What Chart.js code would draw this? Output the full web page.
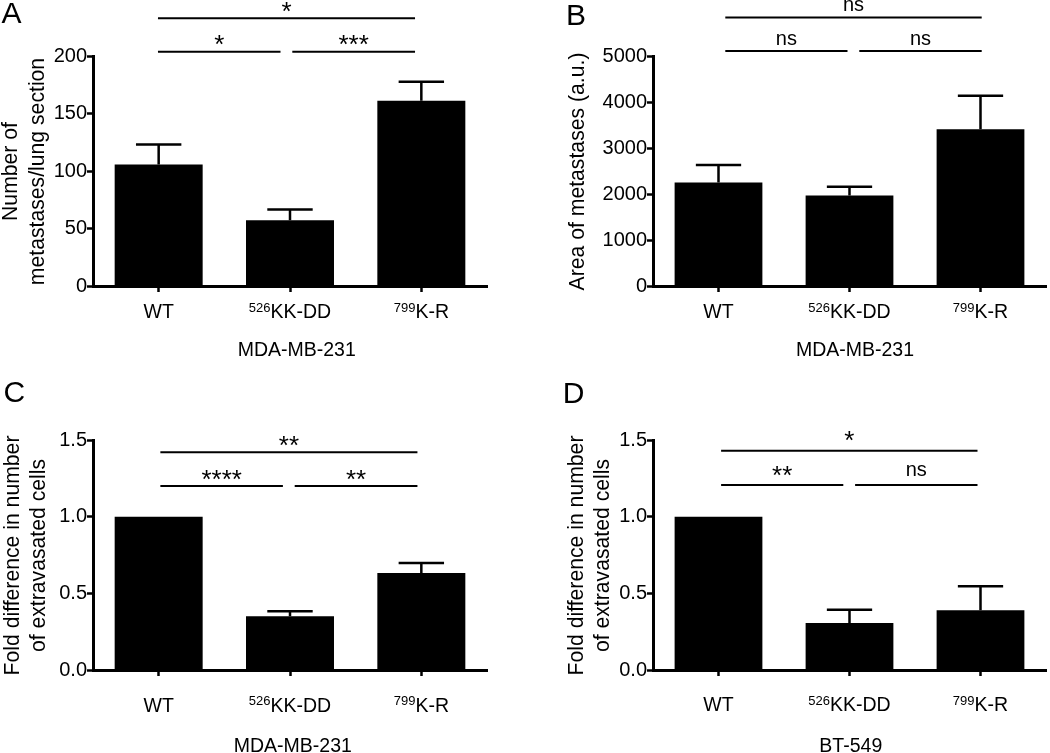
<!DOCTYPE html>
<html>
<head>
<meta charset="utf-8">
<script src="https://cdn.jsdelivr.net/npm/chart.js@4.4.1/dist/chart.umd.min.js"></script>
<style>
html,body{margin:0;padding:0;background:#fff;}
#wrap{position:relative;width:1050px;height:753px;overflow:hidden;background:#fff;}
canvas{position:absolute;display:block;}
</style>
</head>
<body>
<div id="wrap">
<canvas id="cA" width="525" height="376" style="left:0;top:0"></canvas>
<canvas id="cB" width="525" height="376" style="left:525px;top:0"></canvas>
<canvas id="cC" width="525" height="377" style="left:0;top:376px"></canvas>
<canvas id="cD" width="525" height="377" style="left:525px;top:376px"></canvas>
</div>
<script>
// ---------------- DATA ----------------
const categories = ['WT', 'KK-DD', 'K-R'];
const categorySuperscripts = ['', '526', '799'];

// A: number of metastases / lung section (MDA-MB-231)
const metastasesCount = [105.7, 57.2, 161.1];
const metastasesCountSEM = [17.4, 9.3, 16.6];
const ticksA = [0, 50, 100, 150, 200];

// B: area of metastases (MDA-MB-231)
const metastasesArea = [2250, 1970, 3410];
const metastasesAreaSEM = [380, 190, 725];
const ticksB = [0, 1000, 2000, 3000, 4000, 5000];

// C: fold difference extravasated cells (MDA-MB-231)
const extravasationMDA = [1.0, 0.35, 0.633];
const extravasationMDASEM = [0, 0.033, 0.065];
const ticksC = [0, 0.5, 1.0, 1.5];

// D: fold difference extravasated cells (BT-549)
const extravasationBT = [1.0, 0.307, 0.389];
const extravasationBTSEM = [0, 0.086, 0.157];
const ticksD = [0, 0.5, 1.0, 1.5];

// significance comparisons (category index from/to, bracket height in data units, label)
const sigA = [
  {from: 0, to: 2, level: 232.9, label: '*'},
  {from: 0, to: 1, level: 203.8, label: '*'},
  {from: 1, to: 2, level: 203.8, label: '***'}
];
const sigB = [
  {from: 0, to: 2, level: 5837, label: 'ns'},
  {from: 0, to: 1, level: 5108, label: 'ns'},
  {from: 1, to: 2, level: 5108, label: 'ns'}
];
const sigC = [
  {from: 0, to: 2, level: 1.42, label: '**'},
  {from: 0, to: 1, level: 1.20, label: '****'},
  {from: 1, to: 2, level: 1.20, label: '**'}
];
const sigD = [
  {from: 0, to: 2, level: 1.43, label: '*'},
  {from: 0, to: 1, level: 1.207, label: '**'},
  {from: 1, to: 2, level: 1.207, label: 'ns'}
];

// ---------------- PANELS ----------------
const FONT = '"Liberation Sans", Arial, Helvetica, sans-serif';

const panels = [
  {id: 'cA', letter: 'A', values: metastasesCount, sem: metastasesCountSEM, ticks: ticksA, decimals: 0,
   yTitle: ['Number of', 'metastases/lung section'], xTitle: 'MDA-MB-231', sig: sigA,
   style: {area: {left: 93, top: 56, right: 487, bottom: 286}, letterPos: [1.5, 23.3],
           yTitleX: [16.7, 43.5], xLabelY: 318.3, xTitlePos: [296.7, 356.2], sigShift: -0.7, sigText: 11.2}},
  {id: 'cB', letter: 'B', values: metastasesArea, sem: metastasesAreaSEM, ticks: ticksB, decimals: 0,
   yTitle: ['Area of metastases (a.u.)'], xTitle: 'MDA-MB-231', sig: sigB,
   style: {area: {left: 128, top: 56, right: 521, bottom: 286}, letterPos: [41, 25],
           yTitleX: [59], xLabelY: 318.3, xTitlePos: [330, 356.4], sigShift: 6.8, sigText: 12}},
  {id: 'cC', letter: 'C', values: extravasationMDA, sem: extravasationMDASEM, ticks: ticksC, decimals: 1,
   yTitle: ['Fold difference in number', 'of extravasated cells'], xTitle: 'MDA-MB-231', sig: sigC,
   style: {area: {left: 93, top: 64, right: 487, bottom: 294}, letterPos: [3.5, 26.2],
           yTitleX: [18.8, 45.3], xLabelY: 335.7, xTitlePos: [292.8, 376.3], sigShift: 1.7, sigText: 11.2}},
  {id: 'cD', letter: 'D', values: extravasationBT, sem: extravasationBTSEM, ticks: ticksD, decimals: 1,
   yTitle: ['Fold difference in number', 'of extravasated cells'], xTitle: 'BT-549', sig: sigD,
   style: {area: {left: 128, top: 64, right: 521, bottom: 294}, letterPos: [37.8, 26.5],
           yTitleX: [57.8, 83.6], xLabelY: 335.2, xTitlePos: [325.8, 376.2], sigShift: 2.6, sigText: 14.3}}
];

function makePlugin(p) {
  return {
    id: 'decor' + p.letter,
    afterDatasetsDraw(chart) {
      const ctx = chart.ctx;
      const xs = chart.scales.x, ys = chart.scales.y;
      const st = p.style;
      ctx.save();
      ctx.strokeStyle = '#000';
      ctx.fillStyle = '#000';
      // error bars (upper SEM)
      const meta = chart.getDatasetMeta(0);
      ctx.lineWidth = 2.5;
      ctx.lineCap = 'butt';
      meta.data.forEach((bar, i) => {
        if (!p.sem[i]) return;
        const x = bar.x;
        const y0 = ys.getPixelForValue(p.values[i]);
        const y1 = ys.getPixelForValue(p.values[i] + p.sem[i]);
        const half = bar.width * 0.258;
        ctx.beginPath();
        ctx.moveTo(x, y0); ctx.lineTo(x, y1);
        ctx.moveTo(x - half, y1); ctx.lineTo(x + half, y1);
        ctx.stroke();
      });
      ctx.restore();
    },
    afterDraw(chart) {
      const ctx = chart.ctx;
      const xs = chart.scales.x, ys = chart.scales.y;
      const st = p.style;
      const area = chart.chartArea;
      ctx.save();
      ctx.fillStyle = '#000';
      ctx.strokeStyle = '#000';

      // x category labels with superscripts
      ctx.textBaseline = 'alphabetic';
      ctx.textAlign = 'left';
      categories.forEach((c, i) => {
        const cx = xs.getPixelForValue(i);
        const sup = categorySuperscripts[i];
        ctx.font = '13px ' + FONT;
        const ws = sup ? ctx.measureText(sup).width : 0;
        ctx.font = '19.5px ' + FONT;
        const wb = ctx.measureText(c).width;
        const x0 = cx - (ws + wb) / 2;
        if (sup) {
          ctx.font = '13px ' + FONT;
          ctx.fillText(sup, x0, st.xLabelY - 6.6);
        }
        ctx.font = '19.5px ' + FONT;
        ctx.fillText(c, x0 + ws, st.xLabelY);
      });

      // x axis title
      ctx.font = '19.5px ' + FONT;
      ctx.textAlign = 'center';
      ctx.fillText(p.xTitle, st.xTitlePos[0], st.xTitlePos[1]);

      // y axis title (rotated)
      ctx.font = '21.2px ' + FONT;
      const cy = (area.top + area.bottom) / 2 + 0.5;
      p.yTitle.forEach((line, k) => {
        ctx.save();
        ctx.translate(st.yTitleX[k], cy);
        ctx.rotate(-Math.PI / 2);
        ctx.textAlign = 'center';
        ctx.textBaseline = 'alphabetic';
        ctx.fillText(line, 0, 0);
        ctx.restore();
      });

      // panel letter
      ctx.font = '30px ' + FONT;
      ctx.textAlign = 'left';
      ctx.textBaseline = 'alphabetic';
      ctx.fillText(p.letter, st.letterPos[0], st.letterPos[1]);

      // significance brackets
      ctx.lineWidth = 2;
      p.sig.forEach(s => {
        const x1 = xs.getPixelForValue(s.from) + st.sigShift + (s.from === 1 ? 3 : 0);
        const x2 = xs.getPixelForValue(s.to) + st.sigShift + (s.to === 1 ? -8.8 : -5.6);
        const y = ys.getPixelForValue(s.level);
        ctx.beginPath();
        ctx.moveTo(x1, y); ctx.lineTo(x2, y);
        ctx.stroke();
        const isStar = s.label.indexOf('*') >= 0;
        ctx.font = (isStar ? '26px ' : '20px ') + FONT;
        ctx.textAlign = 'center';
        ctx.textBaseline = 'alphabetic';
        const m = ctx.measureText(s.label);
        const centerY = y - st.sigText;
        const base = centerY + (m.actualBoundingBoxAscent - m.actualBoundingBoxDescent) / 2;
        ctx.fillText(s.label, (x1 + x2) / 2, base);
      });
      ctx.restore();
    }
  };
}

panels.forEach(p => {
  const canvas = document.getElementById(p.id);
  const W = canvas.width, H = canvas.height;
  const a = p.style.area;
  new Chart(canvas, {
    type: 'bar',
    data: {
      labels: categories,
      datasets: [{
        data: p.values,
        backgroundColor: '#000',
        borderWidth: 0,
        barPercentage: 0.67,
        categoryPercentage: 1.0
      }]
    },
    options: {
      responsive: false,
      animation: false,
      devicePixelRatio: 1,
      layout: {padding: {left: 0, top: a.top, right: W - a.right, bottom: 0}},
      plugins: {legend: {display: false}, tooltip: {enabled: false}, title: {display: false}},
      scales: {
        x: {
          type: 'category',
          offset: true,
          grid: {display: true, offset: false, drawOnChartArea: false, drawTicks: true,
                 tickLength: 6, tickColor: '#000', tickWidth: 2.5, color: '#000'},
          border: {display: true, color: '#000', width: 3},
          ticks: {display: false},
          afterFit: s => { s.height = H - a.bottom; }
        },
        y: {
          type: 'linear',
          min: 0,
          max: p.ticks[p.ticks.length - 1],
          afterBuildTicks: s => { s.ticks = p.ticks.map(v => ({value: v})); },
          grid: {display: true, drawOnChartArea: false, drawTicks: true,
                 tickLength: 6, tickColor: '#000', tickWidth: 2.5, color: '#000'},
          border: {display: true, color: '#000', width: 3},
          ticks: {
            color: '#000', padding: 0,
            font: {family: FONT, size: 20},
            callback: v => Number(v).toFixed(p.decimals)
          },
          afterFit: s => { s.width = a.left; }
        }
      }
    },
    plugins: [makePlugin(p)]
  });
});
</script>
</body>
</html>
